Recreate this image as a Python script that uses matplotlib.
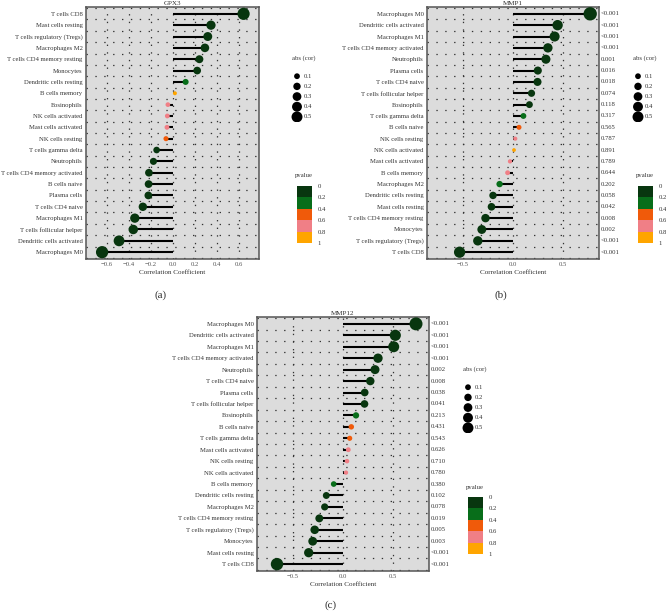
import numpy as np
import matplotlib
matplotlib.use('Agg')
import matplotlib.pyplot as plt
from matplotlib.colors import ListedColormap, BoundaryNorm
from matplotlib.colorbar import ColorbarBase

plt.rcParams['font.family'] = ['Liberation Serif', 'DejaVu Serif']

W, H = 666, 611

# GPX3 (a) -- rows listed top to bottom
cells_a = ['T cells CD8', 'Mast cells resting', 'T cells regulatory (Tregs)', 'Macrophages M2',
           'T cells CD4 memory resting', 'Monocytes', 'Dendritic cells resting', 'B cells memory',
           'Eosinophils', 'NK cells activated', 'Mast cells activated', 'NK cells resting',
           'T cells gamma delta', 'Neutrophils', 'T cells CD4 memory activated', 'B cells naive',
           'Plasma cells', 'T cells CD4 naive', 'Macrophages M1', 'T cells follicular helper',
           'Dendritic cells activated', 'Macrophages M0']
cor_a = [0.64, 0.344, 0.315, 0.289, 0.239, 0.219, 0.114, 0.017, -0.047, -0.052, -0.055, -0.064,
         -0.149, -0.178, -0.219, -0.222, -0.224, -0.274, -0.347, -0.361, -0.49, -0.644]
p_a = [0.0005, 0.002, 0.004, 0.006, 0.02, 0.03, 0.29, 0.92, 0.66, 0.64, 0.63, 0.56,
       0.15, 0.09, 0.03, 0.03, 0.03, 0.01, 0.001, 0.001, 0.0005, 0.0005]

# MMP1 (b)
cells_b = ['Macrophages M0', 'Dendritic cells activated', 'Macrophages M1',
           'T cells CD4 memory activated', 'Neutrophils', 'Plasma cells', 'T cells CD4 naive',
           'T cells follicular helper', 'Eosinophils', 'T cells gamma delta', 'B cells naive',
           'NK cells resting', 'NK cells activated', 'Mast cells activated', 'B cells memory',
           'Macrophages M2', 'Dendritic cells resting', 'Mast cells resting',
           'T cells CD4 memory resting', 'Monocytes', 'T cells regulatory (Tregs)', 'T cells CD8']
cor_b = [0.772, 0.446, 0.416, 0.349, 0.329, 0.248, 0.245, 0.185, 0.164, 0.104, 0.06, 0.023,
         0.01, -0.03, -0.054, -0.134, -0.2, -0.215, -0.275, -0.312, -0.352, -0.534]
plab_b = ['<0.001', '<0.001', '<0.001', '<0.001', '0.001', '0.016', '0.018', '0.074', '0.118',
          '0.317', '0.565', '0.787', '0.891', '0.789', '0.644', '0.202', '0.058', '0.042',
          '0.008', '0.002', '<0.001', '<0.001']

# MMP12 (c)
cells_c = ['Macrophages M0', 'Dendritic cells activated', 'Macrophages M1',
           'T cells CD4 memory activated', 'Neutrophils', 'T cells CD4 naive', 'Plasma cells',
           'T cells follicular helper', 'Eosinophils', 'B cells naive', 'T cells gamma delta',
           'Mast cells activated', 'NK cells resting', 'NK cells activated', 'B cells memory',
           'Dendritic cells resting', 'Macrophages M2', 'T cells CD4 memory resting',
           'T cells regulatory (Tregs)', 'Monocytes', 'Mast cells resting', 'T cells CD8']
cor_c = [0.73, 0.523, 0.507, 0.35, 0.32, 0.273, 0.217, 0.215, 0.13, 0.083, 0.067, 0.053,
         0.04, 0.03, -0.093, -0.167, -0.183, -0.237, -0.283, -0.303, -0.343, -0.66]
plab_c = ['<0.001', '<0.001', '<0.001', '<0.001', '0.002', '0.008', '0.038', '0.041', '0.213',
          '0.431', '0.543', '0.626', '0.710', '0.780', '0.380', '0.102', '0.078', '0.019',
          '0.005', '0.003', '<0.001', '<0.001']

size_vals = [0.1, 0.2, 0.3, 0.4, 0.5]
p_bounds = [0, 0.2, 0.4, 0.6, 0.8, 1.0]
p_cols = ['#08360F', '#086E1A', '#F05A0A', '#F07F86', '#FFA500']

cmap = ListedColormap(p_cols)
norm = BoundaryNorm(p_bounds, cmap.N)


def pval(s):
    return 0.0005 if s.startswith('<') else float(s)


def area(r):
    # marker diameter in px: d^2 ~ 12 + 215*|r|
    d = np.sqrt(12 + 215 * np.abs(np.asarray(r)))
    return (d * 0.72) ** 2


def box(l, t, r, b):
    return [l / W, 1 - b / H, (r - l) / W, (b - t) / H]


fig = plt.figure(figsize=(W / 100, H / 100), dpi=100)
fs = 4.8
tcol = '#333333'


def lollipop(rect, cells, cor, pv, title, xlim, ticks, plabels=None):
    ax = fig.add_axes(rect)
    n = len(cells)
    y = np.arange(n)[::-1]
    cor = np.asarray(cor)
    ax.set_facecolor('#DCDCDC')
    for k in range(n + 1):
        ax.axhline(k - 0.5, color='#333333', lw=0.9, ls=(0, (1.1, 6)), zorder=1)
    for t in ticks:
        ax.axvline(t, color='#333333', lw=0.9, ls=(0, (1.1, 5)), zorder=1)
    ax.hlines(y, 0, cor, color='black', lw=1.5, zorder=2)
    ax.scatter(cor, y, s=area(cor), c=pv, cmap=cmap, norm=norm, zorder=3, linewidths=0)
    ax.set_xlim(*xlim)
    ax.set_ylim(-0.6, n - 0.4)
    ax.set_yticks(y)
    ax.set_yticklabels(cells, fontsize=fs, color=tcol)
    ax.set_xticks(ticks)
    ax.set_xticklabels(['{:.1f}'.format(t).replace('-', '\u2212') for t in ticks],
                       fontsize=fs, color='#555555')
    ax.tick_params(axis='both', length=0, pad=2.5)
    ax.set_xlabel('Correlation Coefficient', fontsize=fs + 0.3, color=tcol, labelpad=2)
    ax.set_title(title, fontsize=fs + 0.3, color=tcol, pad=1.5)
    for s in ax.spines.values():
        s.set_color('#555555')
        s.set_linewidth(1.1)
    if plabels is not None:
        tr = ax.get_yaxis_transform()
        for yy, lab in zip(y, plabels):
            ax.text(1.012, yy, lab, transform=tr, fontsize=fs, color=tcol,
                    ha='left', va='center')
    return ax


def legends(x0, ty):
    # size legend
    lax = fig.add_axes(box(x0 - 10, ty + 6, x0 + 30, ty + 64))
    lax.set_xlim(0, 40)
    lax.set_ylim(len(size_vals) - 0.5, -1.2)
    lax.axis('off')
    iy = np.arange(len(size_vals))
    lax.scatter(np.full(len(size_vals), 10), iy, s=area(size_vals), c='black', linewidths=0)
    for i, v in zip(iy, size_vals):
        lax.text(17, i, '{:.1f}'.format(v), fontsize=fs, color=tcol, va='center')
    fig.text((x0 - 5) / W, 1 - ty / H, 'abs (cor)', fontsize=fs, color=tcol,
             ha='left', va='center')
    # p-value colorbar
    fig.text((x0 - 2) / W, 1 - (ty + 118) / H, 'pvalue', fontsize=fs, color=tcol,
             ha='left', va='center')
    cax = fig.add_axes(box(x0, ty + 128, x0 + 15, ty + 185))
    cb = ColorbarBase(cax, cmap=cmap, norm=norm, boundaries=p_bounds, ticks=p_bounds,
                      orientation='vertical')
    cb.outline.set_visible(False)
    cax.invert_yaxis()
    cax.set_yticklabels(['0', '0.2', '0.4', '0.6', '0.8', '1'])
    cax.tick_params(length=0, labelsize=fs, labelcolor=tcol, pad=4)


pv_b = [pval(s) for s in plab_b]
pv_c = [pval(s) for s in plab_c]

lollipop(box(86, 7, 259, 259), cells_a, cor_a, p_a, 'GPX3', (-0.79, 0.78),
         [-0.6, -0.4, -0.2, 0.0, 0.2, 0.4, 0.6])
lollipop(box(427, 7, 599, 259), cells_b, cor_b, pv_b, 'MMP1', (-0.86, 0.86),
         [-0.5, 0.0, 0.5], plab_b)
lollipop(box(257, 317, 429, 571), cells_c, cor_c, pv_c, 'MMP12', (-0.86, 0.86),
         [-0.5, 0.0, 0.5], plab_c)

legends(297, 58)
legends(638, 58)
legends(468, 369)

for lab, px, py in [('(a)', 161, 295), ('(b)', 501, 295), ('(c)', 331, 605)]:
    fig.text(px / W, 1 - py / H, lab, fontsize=8, color=tcol, ha='center', va='center')

fig.savefig('out.png', dpi=100)
